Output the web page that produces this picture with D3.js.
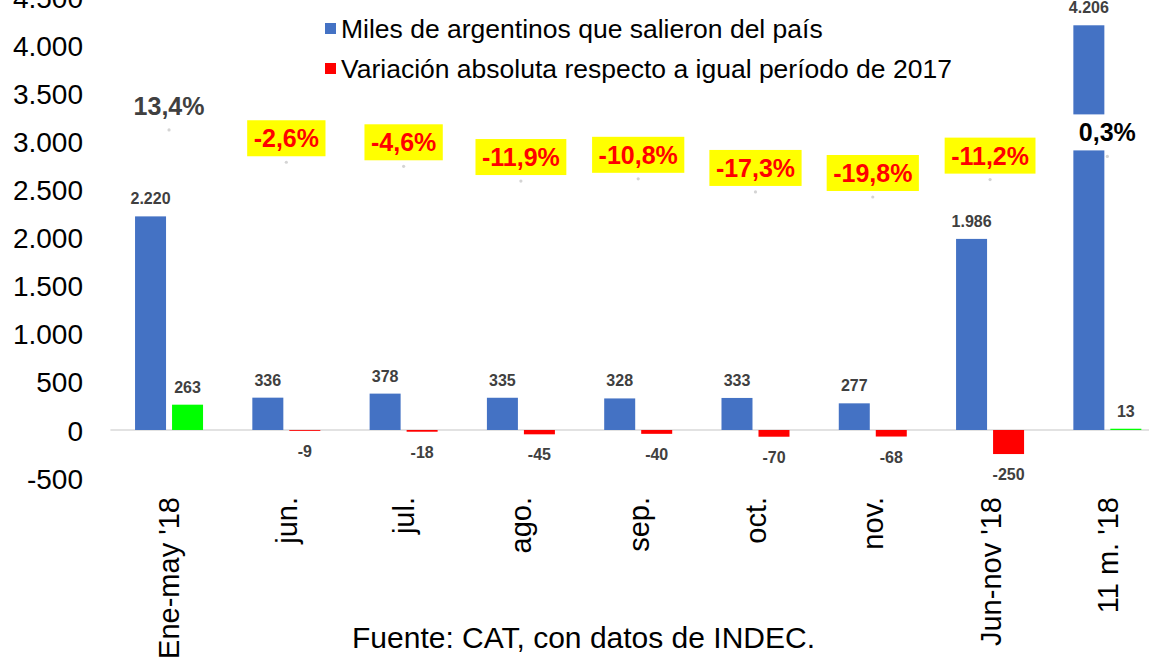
<!DOCTYPE html>
<html>
<head>
<meta charset="utf-8">
<script src="https://cdn.jsdelivr.net/npm/d3@7"></script>
<style>
  html, body { margin: 0; padding: 0; background: #fff; }
  svg { display: block; font-family: "Liberation Sans", Arial, sans-serif; }
</style>
</head>
<body>
<svg id="chart" width="1149" height="662"></svg>
<script>
const categories = ["Ene-may '18", "jun.", "jul.", "ago.", "sep.", "oct.", "nov.", "Jun-nov '18", "11 m. '18"];
const salidas = [2220, 336, 378, 335, 328, 333, 277, 1986, 4206];
const variacion = [263, -9, -18, -45, -40, -70, -68, -250, 13];
const variacionPct = [13.4, -2.6, -4.6, -11.9, -10.8, -17.3, -19.8, -11.2, 0.3];
const yTicks = [-500, 0, 500, 1000, 1500, 2000, 2500, 3000, 3500, 4000, 4500];
const seriesNames = ["Miles de argentinos que salieron del país", "Variación absoluta respecto a igual período de 2017"];
const source = "Fuente: CAT, con datos de INDEC.";

const svg = d3.select("#chart");
const loc = d3.formatLocale({decimal: ",", thousands: ".", grouping: [3], currency: ["$", ""], minus: "-"});
const fmtInt = loc.format(",d");
const fmtPct = v => loc.format(".1f")(v) + "%";

const x = d3.scaleBand().domain(categories).range([110.4, 1166]).padding(0);
const bw = x.bandwidth();
const x1 = d3.scaleBand().domain(["s", "v"]).range([bw / 2 - 34, bw / 2 + 34]).paddingInner(2 - 68 / 37);
const y = d3.scaleLinear().domain([-500, 4500]).range([478.1, -3]);
const yPct = d3.scaleLinear().domain([-20, 15]).range([157 + 40.4, 157 - 30.3]);

const BLUE = "#4472c4", RED = "#ff0000", GREEN = "#00ff00", LABEL = "#404040";

// Y axis labels
const yAxis = d3.axisLeft(y).tickValues(yTicks).tickSize(0).tickPadding(0).tickFormat(fmtInt);
const gy = svg.append("g").attr("transform", "translate(83,0)").call(yAxis);
gy.select(".domain").remove();
gy.selectAll("text").attr("font-size", 28).attr("fill", "#000").attr("font-family", "Liberation Sans, Arial, sans-serif").attr("dy", "0.36em");

// zero line
svg.append("line").attr("x1", 110.4).attr("x2", 1149).attr("y1", y(0)).attr("y2", y(0))
  .attr("stroke", "#d9d9d9").attr("stroke-width", 1.5);

// bars
const groups = svg.append("g").selectAll("g").data(categories).join("g")
  .attr("transform", d => `translate(${x(d)},0)`);

groups.append("rect")
  .attr("x", x1("s")).attr("width", x1.bandwidth())
  .attr("y", (d, i) => y(salidas[i])).attr("height", (d, i) => y(0) - y(salidas[i]))
  .attr("fill", BLUE);

groups.append("rect")
  .attr("x", x1("v")).attr("width", x1.bandwidth())
  .attr("y", (d, i) => y(Math.max(0, variacion[i])))
  .attr("height", (d, i) => Math.abs(y(variacion[i]) - y(0)))
  .attr("fill", (d, i) => variacion[i] >= 0 ? GREEN : RED);

// bar value labels
groups.append("text")
  .attr("x", x1("s") + x1.bandwidth() / 2)
  .attr("y", (d, i) => y(salidas[i]) - 12)
  .attr("text-anchor", "middle").attr("font-size", 16).attr("font-weight", "bold").attr("fill", LABEL)
  .text((d, i) => fmtInt(salidas[i]));

groups.append("text")
  .attr("x", x1("v") + x1.bandwidth() / 2)
  .attr("y", (d, i) => variacion[i] >= 0 ? y(variacion[i]) - 12 : y(variacion[i]) + 26)
  .attr("text-anchor", "middle").attr("font-size", 16).attr("font-weight", "bold").attr("fill", LABEL)
  .text((d, i) => fmtInt(variacion[i]));

// hidden percentage line markers
const pctG = svg.append("g");
pctG.selectAll("circle").data(categories).join("circle")
  .attr("cx", d => x(d) + bw / 2)
  .attr("cy", (d, i) => yPct(variacionPct[i]))
  .attr("r", 1.6).attr("fill", "#d4d4d4");

// percentage labels with boxes
const pl = pctG.selectAll("g.pl").data(categories).join("g").attr("class", "pl")
  .attr("transform", (d, i) => `translate(${x(d) + bw / 2},${yPct(variacionPct[i]) - 24})`);
pl.append("text")
  .attr("text-anchor", "middle").attr("y", 9).attr("font-size", 25).attr("font-weight", "bold")
  .attr("fill", (d, i) => variacionPct[i] < 0 ? RED : (i === 0 ? LABEL : "#000"))
  .text((d, i) => fmtPct(variacionPct[i]));
pl.each(function(d, i) {
  const t = d3.select(this).select("text");
  const w = t.node().getComputedTextLength() + 13;
  d3.select(this).insert("rect", "text")
    .attr("x", -w / 2).attr("y", -18).attr("width", w).attr("height", 36)
    .attr("fill", variacionPct[i] < 0 ? "#ffff00" : "#ffffff");
});

// x axis labels (rotated)
svg.append("g").selectAll("text").data(categories).join("text")
  .attr("transform", d => `translate(${x(d) + bw / 2},497) rotate(-90)`)
  .attr("text-anchor", "end").attr("dy", "0.36em")
  .attr("font-size", 29).attr("fill", "#000")
  .text(d => d);

// legend
const legendColors = [BLUE, RED];
const lg = svg.append("g").selectAll("g").data(seriesNames).join("g")
  .attr("transform", (d, i) => `translate(325,${23 + i * 40})`);
lg.append("rect").attr("width", 11).attr("height", 11).attr("fill", (d, i) => legendColors[i]);
lg.append("text").attr("x", 16).attr("y", 15).attr("font-size", 26.5).attr("fill", "#000").text(d => d);

// source
svg.append("text").attr("x", 352).attr("y", 648).attr("font-size", 30).attr("fill", "#000").text(source);
</script>
</body>
</html>
